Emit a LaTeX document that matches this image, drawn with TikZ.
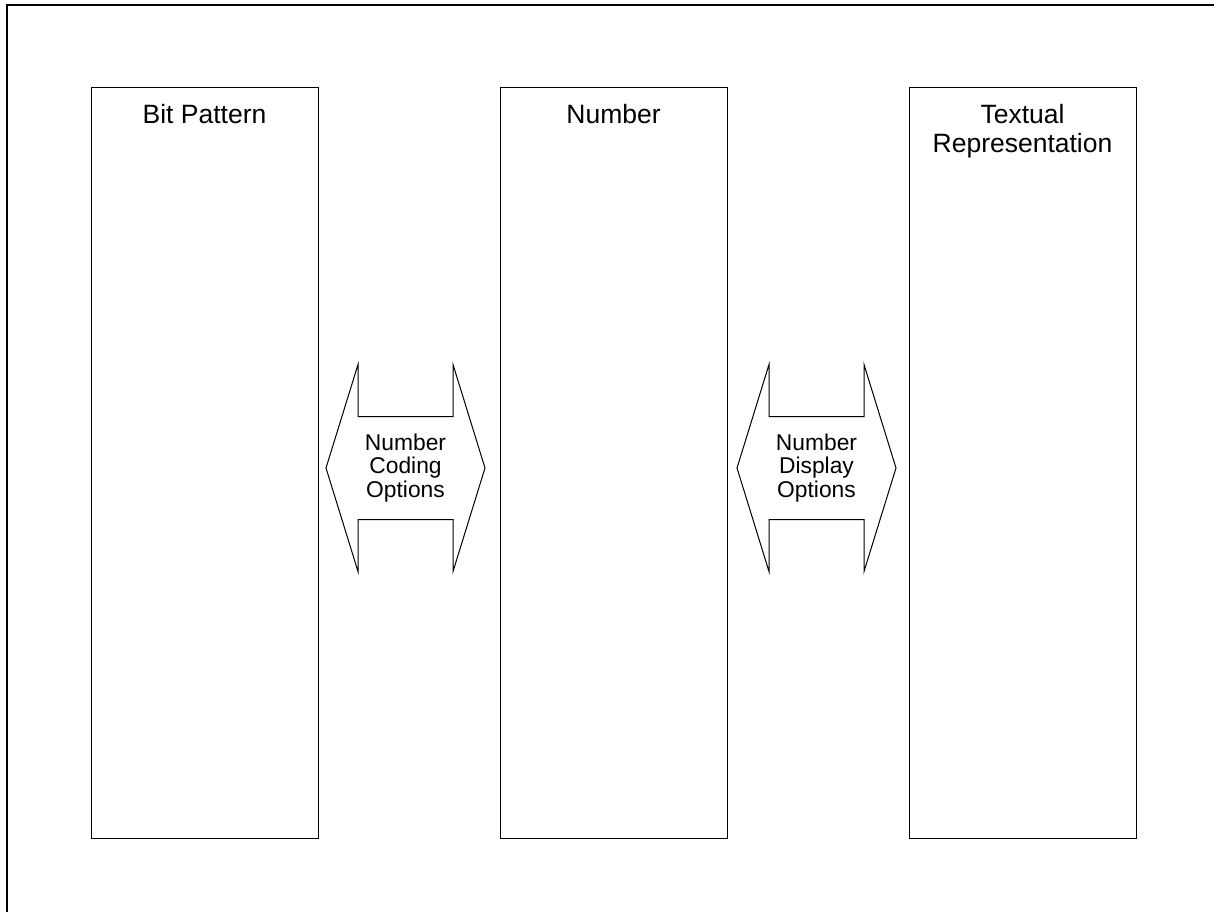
\documentclass[tikz,border=0pt]{standalone}
\usepackage{fontspec}
\setmainfont{Liberation Sans}
\begin{document}
\begin{tikzpicture}[x=1pt,y=1pt,
  col/.style={draw=black, line width=1pt, minimum width=227pt, minimum height=751pt, anchor=north west, inner sep=0pt, outer sep=0pt},
  title/.style={anchor=north, inner sep=0pt, outer sep=0pt, align=center, font=\fontsize{26.5}{29}\selectfont},
  lbl/.style={inner sep=0pt, outer sep=0pt, align=center, font=\fontsize{22.8}{23.4}\selectfont},
  dbl/.style={draw=black, line width=1pt, line join=miter}
]
\useasboundingbox (0,0) rectangle (1214,-911);
\draw[line width=2pt] (7,-912) -- (7,-5) -- (1215,-5);

\node[col] (bp) at (91,-87) {};
\node[col] (nu) at (500,-87) {};
\node[col] (tr) at (909,-87) {};

\node[title] (bpt) at ([yshift=-17pt]bp.north) {Bit Pattern};
\node[title] (nut) at ([yshift=-17pt]nu.north) {Number};
\node[title] (trt) at ([yshift=-17pt]tr.north) {Textual\\Representation};

\node[lbl] (nc) at (405.5,-468) {Number\\Coding\\Options};
\node[lbl] (nd) at (816.5,-468) {Number\\Display\\Options};

\foreach \n in {nc,nd}{
  \draw[dbl, shift={(\n.center)}] (-79.5,0) -- (-47.5,103.5) -- (-47.5,51.5) -- (47.5,51.5) -- (47.5,103.5) -- (79.5,0) -- (47.5,-103.5) -- (47.5,-51.5) -- (-47.5,-51.5) -- (-47.5,-103.5) -- cycle;
}
\end{tikzpicture}
\end{document}
